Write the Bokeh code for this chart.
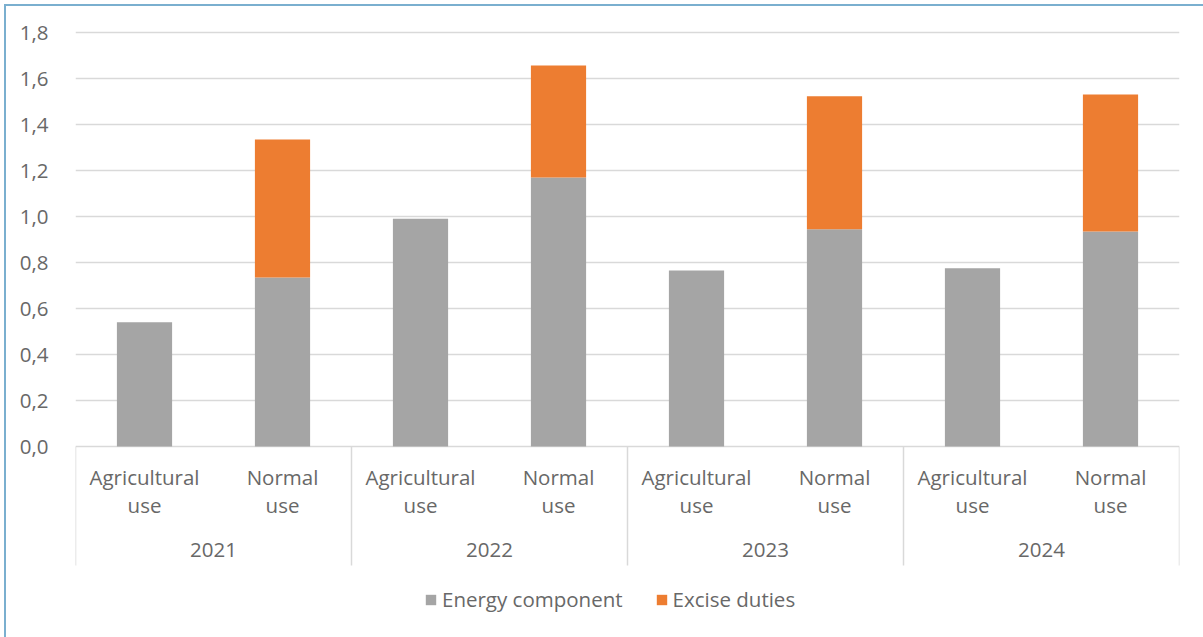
from bokeh.plotting import figure
from bokeh.models import (FactorRange, Range1d, FixedTicker, CustomJSTickFormatter,
                          Legend, LegendItem, ColumnDataSource)
from bokeh.core.properties import value
from bokeh.embed import file_html
from bokeh.resources import INLINE

# ---- data ----
years = ["2021", "2022", "2023", "2024"]
uses = ["Agricultural use", "Normal use"]
energy_component = [0.54, 0.735, 0.99, 1.17, 0.765, 0.945, 0.775, 0.935]
excise_duties = [0.0, 0.60, 0.0, 0.487, 0.0, 0.578, 0.0, 0.595]
y_ticks = [0.0, 0.2, 0.4, 0.6, 0.8, 1.0, 1.2, 1.4, 1.6, 1.8]
series_names = ["Energy component", "Excise duties"]
series_colors = ["#A5A5A5", "#ED7D31"]

factors = [(y, u) for y in years for u in uses]
source = ColumnDataSource(dict(x=factors, energy=energy_component, excise=excise_duties))

FONT = "Open Sans"
TXT = "#686868"
FS = "20.5px"

# layout (figure pixels)
W, H = 1203, 637
top_b, left_b, right_b = 18, 75, 24
zero_px = 446          # pixel row of value 0
px_per_unit = 230.0
y_end = (zero_px - top_b) / px_per_unit
y_start = -(H - zero_px) / px_per_unit

p = figure(width=W, height=H, output_backend="svg", toolbar_location=None,
           x_range=FactorRange(*factors, factor_padding=0, group_padding=0, range_padding=0),
           y_range=Range1d(y_start, y_end),
           x_axis_location=None, min_border_top=top_b, min_border_left=left_b,
           min_border_right=right_b, min_border_bottom=0,
           styles={"box-shadow": "inset 4px 4px 0 0 white, inset 6px 6px 0 0 #7AAFCF"})
p.outline_line_color = None
p.background_fill_color = "white"
p.border_fill_alpha = 0

# y axis
ya = p.yaxis[0]
ya.ticker = FixedTicker(ticks=y_ticks)
ya.formatter = CustomJSTickFormatter(code="return tick.toFixed(1).replace('.', ',');")
ya.axis_line_color = None
ya.major_tick_line_color = None
ya.minor_tick_line_color = None
ya.major_label_standoff = 21
ya.major_label_text_font = FONT
ya.major_label_text_font_size = FS
ya.major_label_text_color = TXT

p.xgrid.visible = False
p.ygrid.ticker = FixedTicker(ticks=y_ticks)
p.ygrid.grid_line_color = "#D9D9D9"
p.ygrid.grid_line_width = 1.5

# bars
rs = p.vbar_stack(["energy", "excise"], x="x", width=0.4, source=source,
                  color=series_colors, line_color=None)

# category separators (synthetic coords at group boundaries)
n_sub = len(uses)
sep_x = [i * n_sub for i in range(len(years) + 1)]
p.segment(x0=sep_x, x1=sep_x, y0=[0] * len(sep_x), y1=[-119 / px_per_unit] * len(sep_x),
          line_color="#D9D9D9", line_width=1.5)

# sub-category labels (two lines each)
line1 = [u.split(" ")[0] for (_, u) in factors]
line2 = [u.split(" ")[1] for (_, u) in factors]
for txt, off in ((line1, 30), (line2, 58)):
    p.text(x=factors, y=[-off / px_per_unit] * len(factors), text=txt,
           text_align="center", text_baseline="middle",
           text_font=value(FONT), text_font_size=FS, text_color=TXT)
# group labels
p.text(x=years, y=[-103 / px_per_unit] * len(years), text=years,
       text_align="center", text_baseline="middle",
       text_font=value(FONT), text_font_size=FS, text_color=TXT)

legend = Legend(items=[LegendItem(label=series_names[i], renderers=[rs[i]]) for i in range(2)],
                orientation="horizontal", location=(349, 24),
                glyph_width=13, glyph_height=13, label_standoff=5, spacing=32,
                padding=0, margin=0, border_line_color=None, background_fill_alpha=0,
                label_text_font=FONT, label_text_font_size=FS, label_text_color=TXT,
                label_height=20)
p.add_layout(legend)

open("out.html", "w").write(file_html(p, INLINE))
